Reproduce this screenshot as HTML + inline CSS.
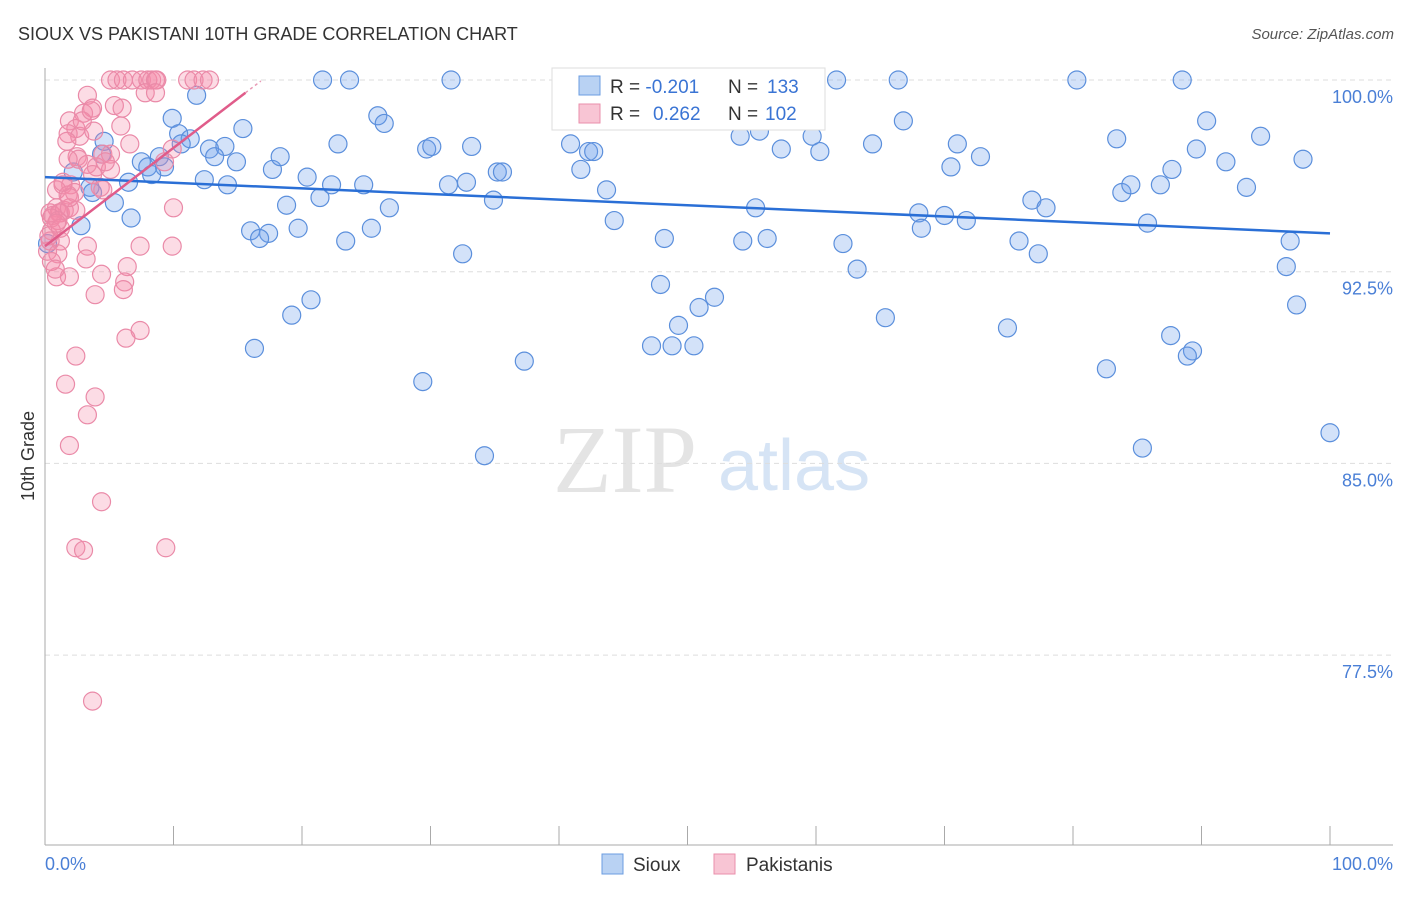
<!DOCTYPE html>
<html><head><meta charset="utf-8"><style>
body{margin:0;background:#fff;width:1406px;height:892px;overflow:hidden;font-family:"Liberation Sans",sans-serif}
</style></head><body>
<svg width="1406" height="892" xmlns="http://www.w3.org/2000/svg">
<text x="18" y="40" font-size="18" fill="#333">SIOUX VS PAKISTANI 10TH GRADE CORRELATION CHART</text>
<text x="1394" y="39" font-size="15" fill="#555" font-style="italic" text-anchor="end">Source: ZipAtlas.com</text>
<g>
<text x="553" y="492" font-size="96" font-family="Liberation Serif,serif" fill="#e4e4e4">ZIP</text>
<text x="718" y="490" font-size="72" fill="#d6e4f5">atlas</text>
</g>
<g id="grid"></g>
<g id="axes"></g>
<g id="pts"></g>
<g id="trend"></g>
<text transform="translate(34,456) rotate(-90)" font-size="18" fill="#333" text-anchor="middle">10th Grade</text>
<text x="45" y="870" font-size="18" fill="#4a7fd6">0.0%</text>
<text x="1393" y="870" font-size="18" fill="#4a7fd6" text-anchor="end">100.0%</text>
<g>
<rect x="552" y="68" width="273" height="62" fill="#fff" stroke="#ddd"/>
<rect x="579" y="76" width="21" height="19" fill="#b9d2f3" stroke="#6b9ce0"/>
<rect x="579" y="104" width="21" height="19" fill="#f8c5d4" stroke="#ea8fab"/>
<text x="610" y="93" font-size="19" fill="#333">R = <tspan fill="#3a74d4">-0.201</tspan><tspan x="728">N = </tspan><tspan fill="#3a74d4" x="767">133</tspan></text>
<text x="610" y="120" font-size="19" fill="#333">R = <tspan fill="#3a74d4" x="653">0.262</tspan><tspan x="728">N = </tspan><tspan fill="#3a74d4" x="765">102</tspan></text>
</g>
<g>
<rect x="602" y="854" width="21" height="20" fill="#b9d2f3" stroke="#6b9ce0"/>
<text x="633" y="871" font-size="19" fill="#333">Sioux</text>
<rect x="714" y="854" width="21" height="20" fill="#f8c5d4" stroke="#ea8fab"/>
<text x="746" y="871" font-size="19" fill="#333">Pakistanis</text>
</g>
</svg>
<script>
const yTicks=[100,92.5,85,77.5];
const yTickLabels=["100.0%","92.5%","85.0%","77.5%"];
const xTicks=[0,10,20,30,40,50,60,70,80,90,100];
const siouxX=[21.6,23.7,31.6,45.5,61.6,66.4,80.3,88.5,9.9,11.8,10.4,11.3,10.6,8.9,7.5,8.0,9.3,8.3,6.5,4.6,4.4,2.2,3.5,3.7,5.4,6.7,2.8,15.4,12.8,14.0,13.2,14.9,12.4,14.2,17.7,18.3,20.4,21.4,22.3,24.8,18.8,16.0,17.4,16.7,19.7,23.4,25.4,26.8,22.8,25.9,26.4,29.7,30.1,33.2,31.4,32.8,35.2,35.6,34.9,32.5,43.7,44.3,40.9,42.3,42.7,41.7,48.2,54.3,56.2,54.1,55.6,57.3,59.7,60.3,55.3,62.1,63.2,64.4,66.8,70.5,71.0,72.8,68.0,68.2,70.0,71.7,76.8,77.9,75.8,77.3,83.4,83.8,84.5,86.8,87.7,85.8,89.6,90.4,91.9,93.5,94.6,97.9,96.9,96.6,97.4,100.0,85.4,82.6,87.6,89.3,88.9,74.9,65.4,52.1,50.9,47.9,49.3,47.2,48.8,50.5,37.3,29.4,34.2,16.3,19.2,20.7,0.2];
const siouxY=[100,100,100,100,100,100,100,100,98.5,99.4,97.9,97.7,97.5,97.0,96.8,96.6,96.6,96.3,96.0,97.6,97.1,96.4,95.8,95.6,95.2,94.6,94.3,98.1,97.3,97.4,97.0,96.8,96.1,95.9,96.5,97.0,96.2,95.4,95.9,95.9,95.1,94.1,94.0,93.8,94.2,93.7,94.2,95.0,97.5,98.6,98.3,97.3,97.4,97.4,95.9,96.0,96.4,96.4,95.3,93.2,95.7,94.5,97.5,97.2,97.2,96.5,93.8,93.7,93.8,97.8,98.0,97.3,97.8,97.2,95.0,93.6,92.6,97.5,98.4,96.6,97.5,97.0,94.8,94.2,94.7,94.5,95.3,95.0,93.7,93.2,97.7,95.6,95.9,95.9,96.5,94.4,97.3,98.4,96.8,95.8,97.8,96.9,93.7,92.7,91.2,86.2,85.6,88.7,90.0,89.4,89.2,90.3,90.7,91.5,91.1,92.0,90.4,89.6,89.6,89.6,89.0,88.2,85.3,89.5,90.8,91.4,93.6];
const pakX=[5.1,5.6,6.1,6.8,7.5,8.0,8.3,8.6,8.7,11.1,11.6,12.3,12.8,7.8,8.6,3.3,3.7,5.4,6.0,3.0,1.9,2.4,5.9,1.8,2.7,3.8,2.5,4.5,2.6,5.1,3.3,4.0,5.1,3.7,1.4,2.0,0.9,1.8,2.3,4.3,4.5,0.9,1.2,0.4,0.6,1.1,1.5,1.9,0.5,1.0,2.4,1.9,1.4,9.9,9.3,10.0,7.4,9.9,0.5,0.4,1.2,0.2,1.0,3.3,3.2,6.4,4.4,0.9,1.9,6.2,6.1,3.9,7.4,6.3,2.4,1.6,3.9,3.3,1.9,4.4,2.4,3.0,9.4,3.7,0.3,1.2,0.9,0.5,0.8,1.8,1.7,2.9,3.6,4.7,6.6];
const pakY=[100,100,100,100,100,100,100,100,100,100,100,100,100,99.5,99.5,99.4,98.9,99.0,98.9,98.7,98.4,98.1,98.2,97.9,97.8,98.0,97.0,97.1,96.9,97.1,96.7,96.6,96.5,96.3,95.9,95.9,95.7,95.5,95.6,95.8,95.7,95.0,94.8,94.8,94.7,94.8,94.9,95.0,94.6,94.5,94.9,95.4,96.0,97.3,96.8,95.0,93.5,93.5,94.1,93.7,93.7,93.3,93.2,93.5,93.0,92.7,92.4,92.3,92.3,92.1,91.8,91.6,90.2,89.9,89.2,88.1,87.6,86.9,85.7,83.5,81.7,81.6,81.7,75.7,93.9,94.2,94.4,92.9,92.6,96.9,97.6,98.4,98.8,96.8,97.5];
const siouxTrend=[96.2,94.0]; // y at x=0 and x=100
const pakTrend=[93.5,99.5,15.6]; // y at x=0, y at x=end, end x
const NS="http://www.w3.org/2000/svg";
const X=v=>45+v*12.85, Y=v=>80+(100-v)*25.56;
function mk(t,a,p){const e=document.createElementNS(NS,t);for(const k in a)e.setAttribute(k,a[k]);p.appendChild(e);return e;}
const grid=document.getElementById('grid'),axes=document.getElementById('axes'),pts=document.getElementById('pts'),tr=document.getElementById('trend');
yTicks.forEach((v,i)=>{
 const l=mk('line',{x1:45,x2:1393,y1:Y(v),y2:Y(v),stroke:'#ddd','stroke-dasharray':'5,4'},grid);
 
 
 const t=mk('text',{x:1393,y:Y(v)+23,'font-size':18,fill:'#4a7fd6','text-anchor':'end'},grid);
 t.textContent=yTickLabels[i];
 
 
});
const ya=mk('line',{x1:45,x2:45,y1:68,y2:845,stroke:'#aaa'},axes);


const xa=mk('line',{x1:45,x2:1393,y1:845,y2:845,stroke:'#aaa'},axes);


xTicks.forEach(v=>{
 const t=mk('line',{x1:X(v),x2:X(v),y1:826,y2:845,stroke:'#aaa'},axes);
 
 
});
siouxX.forEach((x,i)=>{
 const c=mk('circle',{cx:X(x),cy:Y(siouxY[i]),r:9,fill:'rgba(110,160,235,0.3)',stroke:'#5b8fdc','stroke-width':1.2},pts);
 
 
});
pakX.forEach((x,i)=>{
 const c=mk('circle',{cx:X(x),cy:Y(pakY[i]),r:9,fill:'rgba(245,140,170,0.3)',stroke:'#ea8aa8','stroke-width':1.2},pts);
 
 
});
const bl=mk('line',{x1:X(0),y1:Y(siouxTrend[0]),x2:X(100),y2:Y(siouxTrend[1]),stroke:'#2a6fd6','stroke-width':2.5},tr);


const pl=mk('line',{x1:X(0),y1:Y(pakTrend[0]),x2:X(pakTrend[2]),y2:Y(pakTrend[1]),stroke:'#e05c8a','stroke-width':2.5},tr);


const slope=(pakTrend[1]-pakTrend[0])/pakTrend[2];
const pd=mk('line',{x1:X(pakTrend[2]),y1:Y(pakTrend[1]),x2:X(pakTrend[2]+1.2),y2:Y(pakTrend[1]+slope*1.2),stroke:'#e89ab5','stroke-width':1.5,'stroke-dasharray':'3,3'},tr);


</script>
</body></html>
